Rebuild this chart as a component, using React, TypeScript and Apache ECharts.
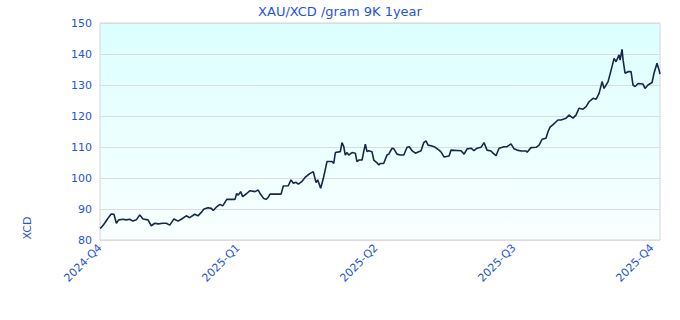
import React, { useEffect, useRef } from "react";
import * as echarts from "echarts";

const TITLE = "XAU/XCD /gram 9K 1year";
const Y_NAME = "XCD";
const QUARTER_LABELS = ["2024-Q4", "2025-Q1", "2025-Q2", "2025-Q3", "2025-Q4"];
const Y_MIN = 80;
const Y_MAX = 150;
const Y_STEP = 10;
const X_STEP = 92;
const X_MAX = 373.3;

// day index since start of 2024-Q4
const days = [
  0, 0.9, 3.1, 5.3, 7.5, 9.3, 10.9, 12.5, 15.3, 17.5, 19.8, 22, 24.2, 26.5, 28.7, 32, 34.2, 36.5, 38.7, 42,
  44.2, 46.5, 49.3, 52, 54.2, 57.5, 59.8, 63.1, 65.3, 67.5, 69.3, 72, 74.2,
  75.5, 77.8, 80, 81.8, 84.5, 90, 91.1, 92.2, 93.8, 95.1, 97.8, 100, 103.3, 105.5, 106.7, 108.9, 110.7,
  112.2, 113.3, 120.7, 122.2, 125.5, 127.3, 128.9, 130.7, 132.2, 134.5, 136.7, 140, 142.2, 144, 145.1,
  147.1, 148.9,
  151.3, 154.7, 155.8, 156.9, 160.2, 161.3, 162.5, 163.5, 164.7, 165.8, 168, 170.2, 171.3, 172.5, 174.7,
  175.8, 176.9, 178, 179.1, 181.3, 182.5, 184.7, 185.8, 186.9, 189.1, 191.3, 192.5, 194.7, 195.8, 198,
  200.2, 202.5, 204.7, 206.2, 208, 210.2, 212.5, 214, 215.8, 217.3, 218.7, 221.3, 223.5,
  226, 227.3, 229.3, 232.7, 234, 240.7, 242.7, 244.7, 247.3, 249.3, 251.3, 254, 256, 258, 260.7, 262,
  264, 266, 269.3, 271.3, 274, 276, 278, 280.7, 284, 284.7, 287.3, 290.7, 292.7, 294.7, 297.3, 298.7, 300,
  302, 305.3, 307.3, 310.7, 312.7, 315.3, 317.3, 319.3, 322, 324, 326, 328.7, 330.7, 332.7, 334.7, 336,
  338.7, 340.7, 342.7, 344, 346, 346.7, 348, 348.7, 350, 352, 354, 355.3, 356.7, 358.7, 362, 363.3, 365.3,
  368, 369.3, 371.3, 372.7, 373.3,
];

const prices = [
  83.8, 84, 85.4, 87, 88.4, 88.3, 85.4, 86.5, 86.7, 86.5, 86.7, 86.1, 86.5, 88.1, 86.8, 86.5, 84.6, 85.4, 85.2, 85.4,
  85.4, 84.8, 86.8, 86.1, 86.7, 87.8, 87.2, 88.3, 87.8, 88.9, 90, 90.4, 90.2,
  89.5, 90.7, 91.5, 91, 93.1, 93.1, 95, 94.5, 95.6, 94, 95, 95.9, 95.6, 96.1, 95, 93.5, 93.1,
  93.8, 94.8, 94.8, 97.4, 97.5, 99.4, 98.3, 98.6, 98, 98.8, 100.2, 101.5, 102, 98.5, 99.4,
  96.7, 99.9,
  105.3, 105.3, 104.7, 108.2, 108.5, 111.4, 110.1, 107.4, 108.2, 107.4, 108.2, 108, 105.3, 105.8, 105.8,
  108.5, 110.9, 108.5, 108.8, 108.5, 105.8, 104.9, 104.2, 104.7, 104.7, 107.4, 107.7, 109.6, 109.5, 107.7,
  107.4, 107.4, 109.9, 110.1, 108.8, 108, 108.5, 108.8, 111.4, 112, 110.6, 110.3, 109.9,
  109, 108.4, 106.8, 107.1, 109, 108.8, 107.7, 109.4, 109.6, 108.8, 109.6, 109.9, 111.4, 109, 108.7, 108,
  107.2, 109.6, 110.1, 110.1, 111, 109.4, 109, 108.7, 108.7, 108.3, 109.8, 109.9, 110.6, 112.5, 112.8, 115, 116.4,
  117.2, 118.7, 118.7, 119.3, 120.3, 119.3, 120.3, 122.5, 122.2, 123, 124.6, 125.7, 125.4, 127.3, 131.1, 128.9,
  131.1, 134.8, 138.6, 137.5, 139.7, 138, 141.5, 138, 133.8, 134.3, 134.3, 130, 129.5, 130.5, 130.3, 128.9, 130,
  130.8, 133.8, 137, 134.8, 133.5,
];

const TEXT_BLUE = "#1f55d6";
const FONT = "DejaVu Sans";

export default function App() {
  const ref = useRef<HTMLDivElement>(null);

  useEffect(() => {
    if (!ref.current) return;
    const chart = echarts.init(ref.current, undefined, { renderer: "svg" });
    const seriesData = days.map((d, i) => [d, prices[i]]);
    chart.setOption({
      animation: false,
      textStyle: { fontFamily: FONT },
      title: {
        text: TITLE,
        left: "center",
        top: 0,
        textStyle: { color: TEXT_BLUE, fontSize: 13, fontWeight: "normal", fontFamily: FONT },
      },
      graphic: [
        {
          type: "text",
          x: 27,
          y: 228,
          rotation: Math.PI / 2,
          style: {
            text: Y_NAME,
            fill: TEXT_BLUE,
            fontSize: 11,
            fontFamily: FONT,
            textAlign: "center",
            textVerticalAlign: "middle",
          },
        },
      ],
      grid: {
        left: 100,
        right: 20,
        top: 23,
        bottom: 80,
        show: true,
        borderColor: "#d4d4d4",
        borderWidth: 1,
        backgroundColor: new echarts.graphic.LinearGradient(0, 0, 0, 1, [
          { offset: 0, color: "#dcffff" },
          { offset: 1, color: "#f9ffff" },
        ]),
      },
      xAxis: {
        type: "value",
        min: 0,
        max: X_MAX,
        interval: X_STEP,
        axisLine: { show: false },
        axisTick: { show: false },
        splitLine: { show: false },
        axisLabel: {
          rotate: 45,
          color: TEXT_BLUE,
          fontSize: 11,
          fontFamily: FONT,
          margin: 6,
          showMaxLabel: false,
          formatter: (v: number) => {
            const idx = Math.round(v / X_STEP);
            return QUARTER_LABELS[idx] ?? "";
          },
        },
      },
      yAxis: {
        type: "value",
        min: Y_MIN,
        max: Y_MAX,
        interval: Y_STEP,
        axisLine: { show: false },
        axisTick: { show: false },
        splitLine: { show: true, lineStyle: { color: "#dcdcdc", width: 1 } },
        axisLabel: { color: TEXT_BLUE, fontSize: 11, fontFamily: FONT, margin: 8 },
      },
      series: [
        {
          type: "line",
          data: seriesData,
          showSymbol: false,
          symbol: "none",
          lineStyle: { color: "#14284b", width: 1.6 },
        },
      ],
    });
    return () => chart.dispose();
  }, []);

  return (
    <div
      ref={ref}
      style={{ position: "absolute", left: 0, top: 0, width: 680, height: 320 }}
    />
  );
}
